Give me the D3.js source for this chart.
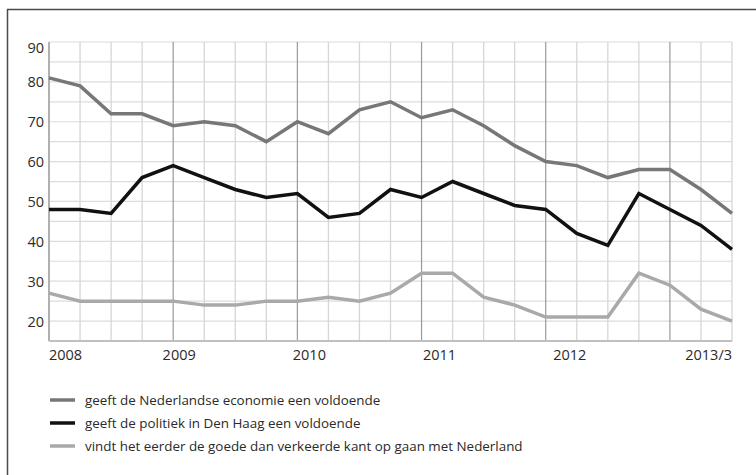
<!DOCTYPE html>
<html>
<head>
<meta charset="utf-8">
<script src="https://cdn.jsdelivr.net/npm/d3@7"></script>
<style>
  body { margin: 0; background: #fff; }
  text { font-family: "Open Sans", "Noto Sans", sans-serif; fill: #2a2a2a; }
</style>
</head>
<body>
<script>
// quarterly values, 2008 Q1 .. 2013 Q3
var economie = [81, 79, 72, 72, 69, 70, 69, 65, 70, 67, 73, 75, 71, 73, 69, 64, 60, 59, 56, 58, 58, 53, 47];
var politiek = [48, 48, 47, 56, 59, 56, 53, 51, 52, 46, 47, 53, 51, 55, 52, 49, 48, 42, 39, 52, 48, 44, 38];
var richting = [27, 25, 25, 25, 25, 24, 24, 25, 25, 26, 25, 27, 32, 32, 26, 24, 21, 21, 21, 32, 29, 23, 20];

var yearLabels = ["2008", "2009", "2010", "2011", "2012", "2013/3"];
var yTicks = [20, 30, 40, 50, 60, 70, 80, 90];
var legendText = [
  "geeft de Nederlandse economie een voldoende",
  "geeft de politiek in Den Haag een voldoende",
  "vindt het eerder de goede dan verkeerde kant op gaan met Nederland"
];
var series = [economie, politiek, richting];
var colors = ["#777777", "#111111", "#a9a9a9"];

var width = 756, height = 475;

var svg = d3.select("body").append("svg")
    .attr("width", width)
    .attr("height", height);

// frame (open at right and bottom)
svg.append("path")
    .attr("d", "M7.5," + height + "V9.5H" + width)
    .attr("fill", "none")
    .attr("stroke", "#4a4a4a")
    .attr("stroke-width", 1.5);

var x = d3.scaleLinear()
    .domain([0, economie.length - 1])
    .range([49, 732]);

var y = d3.scaleLinear()
    .domain([15, 90])
    .range([341, 42]);

var grid = svg.append("g");

// horizontal grid every 5
grid.selectAll("line.h")
    .data(d3.range(20, 91, 5))
    .enter().append("line")
    .attr("x1", x(0)).attr("x2", x(economie.length - 1))
    .attr("y1", function(d) { return y(d); })
    .attr("y2", function(d) { return y(d); })
    .attr("stroke", "#dcdcdc")
    .attr("stroke-width", 1.2);

// vertical grid per quarter, darker on year start
grid.selectAll("line.v")
    .data(d3.range(1, economie.length))
    .enter().append("line")
    .attr("x1", function(d) { return x(d); })
    .attr("x2", function(d) { return x(d); })
    .attr("y1", y(90)).attr("y2", y(15))
    .attr("stroke", function(d) { return d % 4 == 0 ? "#9a9a9a" : "#d6d6d6"; })
    .attr("stroke-width", function(d) { return d % 4 == 0 ? 1.2 : 1.3; });

// axis lines
grid.append("line")
    .attr("x1", x(0)).attr("x2", x(0))
    .attr("y1", y(90)).attr("y2", y(15))
    .attr("stroke", "#b0b0b0").attr("stroke-width", 2);
grid.append("line")
    .attr("x1", x(0)).attr("x2", x(economie.length - 1))
    .attr("y1", y(15)).attr("y2", y(15))
    .attr("stroke", "#c0c0c0").attr("stroke-width", 2);

// y labels
var yAxis = svg.append("g")
    .attr("transform", "translate(44,0)")
    .call(d3.axisLeft(y).tickValues(yTicks).tickSize(0).tickPadding(0));
yAxis.select(".domain").remove();
yAxis.selectAll("text")
    .style("font-size", "14.5px")
    .attr("font-family", null)
    .attr("dy", function(d) { return d == 90 ? "0.75em" : "0.35em"; });

// x labels
svg.append("g").selectAll("text")
    .data(yearLabels)
    .enter().append("text")
    .attr("x", function(d, i) {
      if (i == 0) return x(0);
      if (i == yearLabels.length - 1) return x(economie.length - 1);
      return x(i * 4) + 6 * i;
    })
    .attr("y", 360)
    .attr("text-anchor", function(d, i) {
      return i == 0 ? "start" : (i == yearLabels.length - 1 ? "end" : "middle");
    })
    .style("font-size", "14.5px")
    .text(function(d) { return d; });

// lines
var line = d3.line()
    .x(function(d, i) { return x(i); })
    .y(function(d) { return y(d); });

svg.append("g").selectAll("path")
    .data(series)
    .enter().append("path")
    .attr("d", line)
    .attr("fill", "none")
    .attr("stroke", function(d, i) { return colors[i]; })
    .attr("stroke-width", 3.5)
    .attr("stroke-linejoin", "miter");

// legend
var legend = svg.append("g").selectAll("g")
    .data(legendText)
    .enter().append("g")
    .attr("transform", function(d, i) { return "translate(50," + (400 + i * 23) + ")"; });

legend.append("line")
    .attr("x1", 0).attr("x2", 25)
    .attr("stroke", function(d, i) { return colors[i]; })
    .attr("stroke-width", 3.5);

legend.append("text")
    .attr("x", 35)
    .attr("dy", "0.35em")
    .style("font-size", "13.4px")
    .text(function(d) { return d; });
</script>
</body>
</html>
